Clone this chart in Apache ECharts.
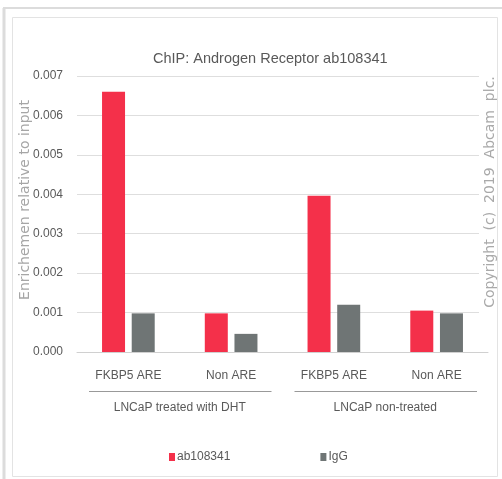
<!DOCTYPE html>
<html>
<head>
<meta charset="utf-8">
<script src="https://cdn.jsdelivr.net/npm/echarts@6/dist/echarts.min.js"></script>
<style>
  html, body { margin: 0; padding: 0; background: #fff; }
  #chart { width: 502px; height: 479px; }
</style>
</head>
<body>
<div id="chart"></div>
<script>
// ---- data ----
var categories = ['FKBP5 ARE', 'Non ARE', 'FKBP5 ARE', 'Non ARE'];
var groups = ['LNCaP treated with DHT', 'LNCaP non-treated'];
var seriesNames = ['ab108341', 'IgG'];
var abValues = [0.0066, 0.00098, 0.00396, 0.00105];
var iggValues = [0.00098, 0.00046, 0.0012, 0.00098];
var yTicks = [0, 0.001, 0.002, 0.003, 0.004, 0.005, 0.006, 0.007];
var titleText = 'ChIP: Androgen Receptor ab108341';
var yAxisTitle = 'Enrichemen relative to input';
var copyrightText = 'Copyright  (c)  2019  Abcam  plc.';

var RED = '#F4304A';
var GRAY = '#6F7575';
var TXT = '#595959';
var FONT = '"Liberation Sans", Arial, sans-serif';

var chart = echarts.init(document.getElementById('chart'), null, { renderer: 'canvas' });

var baseGraphics = [
  // outer frame
  { type: 'line', z: 1, shape: { x1: 3, y1: 8, x2: 502, y2: 8 }, style: { stroke: '#dcdcdc', lineWidth: 2 } },
  { type: 'line', z: 1, shape: { x1: 4, y1: 8, x2: 4, y2: 479 }, style: { stroke: '#dcdcdc', lineWidth: 3 } },
  // inner frame
  { type: 'rect', z: 1, shape: { x: 12.5, y: 17.5, width: 485, height: 459 }, style: { fill: 'none', stroke: '#e3e3e3', lineWidth: 1 } },
  // y axis title
  { type: 'text', z: 5, x: 25, y: 200, rotation: Math.PI / 2,
    style: { text: yAxisTitle, fill: '#a6a6a6', font: '14px "DejaVu Sans", sans-serif', align: 'center', verticalAlign: 'middle' } },
  // white box behind copyright
  { type: 'rect', z: 50, shape: { x: 479, y: 60, width: 17, height: 285 }, style: { fill: '#fff' } },
  { type: 'text', z: 51, x: 490, y: 192, rotation: Math.PI / 2,
    style: { text: copyrightText, fill: '#a9a9a9', font: '14px "DejaVu Sans", sans-serif', align: 'center', verticalAlign: 'middle' } }
];

var option = {
  animation: false,
  backgroundColor: '#fff',
  title: {
    text: titleText, left: 148, top: 46,
    textStyle: { color: TXT, fontSize: 14.5, fontWeight: 'normal', fontFamily: FONT }
  },
  legend: {
    data: seriesNames, left: 164, top: 446, itemWidth: 6, itemHeight: 8, itemGap: 90,
    icon: 'rect',
    textStyle: { color: TXT, fontSize: 12, fontFamily: FONT, padding: [0, 0, 0, -3] }
  },
  grid: { left: 77, right: 14, top: 76, bottom: 127, containLabel: false },
  xAxis: [
    {
      type: 'category', data: categories, position: 'bottom',
      axisLine: { show: true, lineStyle: { color: '#d0d0d0', width: 1 } },
      axisTick: { show: false },
      axisLabel: { color: TXT, fontSize: 12, fontFamily: FONT, margin: 18 }
    },
    {
      type: 'category', data: groups, position: 'bottom',
      axisLine: { show: false }, axisTick: { show: false },
      axisLabel: { color: TXT, fontSize: 12, fontFamily: FONT, margin: 50 }
    }
  ],
  yAxis: {
    type: 'value', min: yTicks[0], max: yTicks[yTicks.length - 1], interval: yTicks[1] - yTicks[0],
    axisLine: { show: false }, axisTick: { show: false },
    splitLine: { lineStyle: { color: '#dedede', width: 1 } },
    axisLabel: { color: TXT, fontSize: 12, fontFamily: FONT, margin: 14,
      formatter: function (v) { return v.toFixed(3); } }
  },
  series: [
    { name: seriesNames[0], type: 'bar', xAxisIndex: 0, data: abValues, barWidth: 23, barGap: '29%', itemStyle: { color: RED } },
    { name: seriesNames[1], type: 'bar', xAxisIndex: 0, data: iggValues, barWidth: 23, barGap: '29%', itemStyle: { color: GRAY } }
  ],
  graphic: baseGraphics
};
chart.setOption(option);

// group separator lines under the category labels, from the axis scale
var c0 = chart.convertToPixel({ xAxisIndex: 0 }, 0);
var c1 = chart.convertToPixel({ xAxisIndex: 0 }, 1);
var bw = c1 - c0;
var yLine = chart.convertToPixel({ yAxisIndex: 0 }, 0) + 39;
var lines = [];
for (var g = 0; g < groups.length; g++) {
  var left = chart.convertToPixel({ xAxisIndex: 0 }, g * 2) - bw / 2 + 12;
  var right = chart.convertToPixel({ xAxisIndex: 0 }, g * 2 + 1) + bw / 2 - 11;
  lines.push({ type: 'line', z: 5, shape: { x1: left, y1: yLine + 0.5, x2: right, y2: yLine + 0.5 }, style: { stroke: '#999999', lineWidth: 1 } });
}
chart.setOption({ graphic: baseGraphics.concat(lines) });
</script>
</body>
</html>
